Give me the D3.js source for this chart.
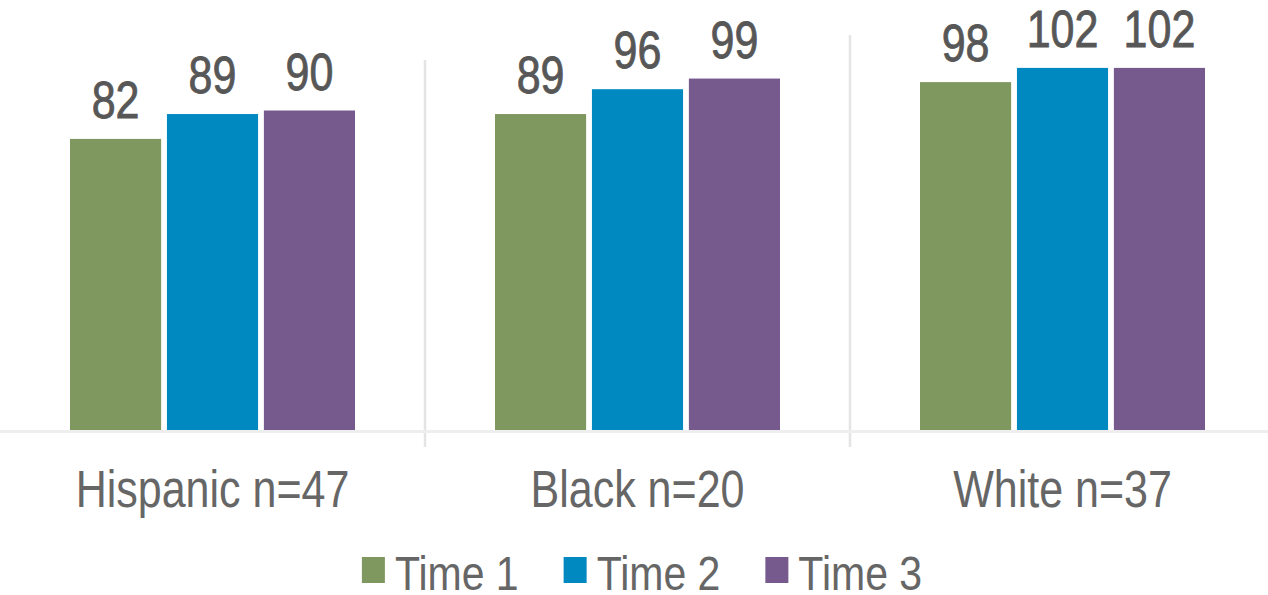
<!DOCTYPE html>
<html>
<head>
<meta charset="utf-8">
<script src="https://cdn.jsdelivr.net/npm/d3@7"></script>
<style>
  html, body { margin: 0; padding: 0; background: #ffffff; }
  svg { display: block; }
  text { font-family: "Liberation Sans", Arial, sans-serif; }
</style>
</head>
<body>
<div id="chart"></div>
<script>
//------------------------ Data
const groups = ["Hispanic n=47", "Black n=20", "White n=37"]
const series = ["Time 1", "Time 2", "Time 3"]
const time1 = [82, 89, 98]
const time2 = [89, 96, 102]
const time3 = [90, 99, 102]
const colors = ["#7f9860", "#0089c0", "#765a8e"]

function draw() {

//*************************1. Dimensions
    const dimensions = {
        width: 1268,
        height: 595,
        baseline: 430,
        top: 4
    }
    const stretch = 1.19   // text in the picture is taller than wide

//*************************2. Wrapper
    const wrapper = d3.select("#chart")
        .append("svg")
        .attr("width", dimensions.width)
        .attr("height", dimensions.height)

//*************************3. Rows
    const valuesBySeries = [time1, time2, time3]
    const rows = []
    groups.forEach((g, gi) => {
        series.forEach((s, si) => {
            rows.push({group: g, series: s, value: valuesBySeries[si][gi]})
        })
    })

//*************************4. Scales
    const x0 = d3.scaleBand()
        .domain(groups)
        .range([0, 1275])

    const groupWidth = 285
    const x1 = d3.scaleBand()
        .domain(series)
        .range([0, groupWidth])
        .paddingInner(0.06)

    const yScale = d3.scaleLinear()
        .domain([0, 120])
        .range([dimensions.baseline, dimensions.top])

    const colorScale = d3.scaleOrdinal()
        .domain(series)
        .range(colors)

    const barX = d => x0(d.group) + (x0.bandwidth() - groupWidth) / 2 + x1(d.series)

//*************************5. Peripherals
    // separators between categories
    const dividerTops = [60, 35]
    wrapper.append("g")
        .selectAll("line")
        .data(groups.slice(1))
        .join("line")
        .attr("x1", d => x0(d))
        .attr("x2", d => x0(d))
        .attr("y1", (d, i) => dividerTops[i])
        .attr("y2", dimensions.baseline + 17)
        .attr("stroke", "#e4e4e4")
        .attr("stroke-width", 2.5)

    // baseline
    wrapper.append("line")
        .attr("x1", 0)
        .attr("x2", dimensions.width)
        .attr("y1", yScale(0) + 1.5)
        .attr("y2", yScale(0) + 1.5)
        .attr("stroke", "#eeeeee")
        .attr("stroke-width", 3)

//*************************6. Bars
    wrapper.append("g")
        .selectAll("rect")
        .data(rows)
        .join("rect")
        .attr("x", barX)
        .attr("y", d => yScale(d.value))
        .attr("width", x1.bandwidth())
        .attr("height", d => yScale(0) - yScale(d.value))
        .attr("fill", d => colorScale(d.series))

    // data labels
    wrapper.append("g")
        .selectAll("text")
        .data(rows)
        .join("text")
        .attr("transform", d => `translate(${barX(d) + x1.bandwidth() / 2},${yScale(d.value) - 21}) scale(1,${stretch})`)
        .attr("text-anchor", "middle")
        .attr("font-size", 43)
        .attr("fill", "#575757")
        .attr("stroke", "#575757")
        .attr("stroke-width", 0.7)
        .text(d => d.value)

//*************************7. Category labels
    wrapper.append("g")
        .selectAll("text")
        .data(groups)
        .join("text")
        .attr("transform", d => `translate(${x0(d) + x0.bandwidth() / 2},507) scale(1,${stretch})`)
        .attr("text-anchor", "middle")
        .attr("font-size", 43)
        .attr("fill", "#666666")
        .text(d => d)

//*************************8. Legend
    const legend = wrapper.append("g")
    const items = legend.selectAll("g")
        .data(series)
        .join("g")

    items.append("rect")
        .attr("y", 557)
        .attr("width", 23)
        .attr("height", 26)
        .attr("fill", d => colorScale(d))

    items.append("text")
        .attr("transform", `translate(33,590) scale(1,${stretch})`)
        .attr("font-size", 41)
        .attr("fill", "#666666")
        .text(d => d)

    // lay out items side by side, centred
    let widths = []
    items.each(function () {
        widths.push(33 + d3.select(this).select("text").node().getComputedTextLength())
    })
    const gap = 45
    const total = d3.sum(widths) + gap * (widths.length - 1)
    let cursor = 642 - total / 2
    items.attr("transform", (d, i) => {
        const pos = cursor
        cursor += widths[i] + gap
        return `translate(${pos},0)`
    })
}
draw()
</script>
</body>
</html>
